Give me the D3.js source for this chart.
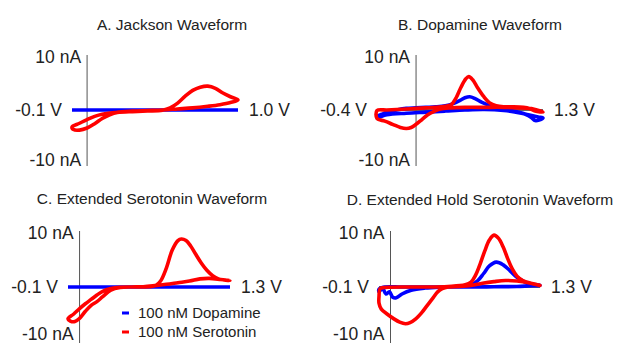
<!DOCTYPE html>
<html>
<head>
<meta charset="utf-8">
<script src="https://cdn.jsdelivr.net/npm/d3@7"></script>
<style>
  body { margin: 0; background: #fff; }
  svg text { font-family: "Liberation Sans", Arial, sans-serif; fill: #222; }
</style>
</head>
<body>
<svg id="chart" width="617" height="343"></svg>
<script>
// cyclic voltammograms, [potential V, current nA]
var jacksonDopamine = [[-0.1, 0], [1.0, 0]];
var jacksonSerotonin = [
  [-0.1, -3.2], [-0.05, -2.5], [0.0, -1.8], [0.05, -1.2], [0.1, -0.8], [0.2, -0.45], [0.3, -0.3],
  [0.4, -0.2], [0.5, -0.05], [0.55, 0.4], [0.6, 1.3], [0.65, 2.6], [0.7, 3.7], [0.75, 4.3],
  [0.8, 4.5], [0.85, 4.1], [0.9, 3.2], [0.95, 2.5], [1.0, 1.9],
  [0.95, 1.4], [0.88, 1.0], [0.8, 0.7], [0.7, 0.4], [0.6, 0.2], [0.5, 0.0], [0.4, -0.1],
  [0.3, -0.2], [0.2, -0.45], [0.15, -0.9], [0.1, -1.6], [0.05, -2.6], [0.0, -3.4],
  [-0.05, -3.8], [-0.09, -3.7]
];

var dopamineDopamine = [
  [-0.4, -1.2], [-0.35, -0.8], [-0.3, -0.4], [-0.2, 0.0], [-0.1, 0.3], [0.0, 0.4], [0.1, 0.5],
  [0.2, 0.6], [0.3, 0.8], [0.38, 1.2], [0.45, 1.8], [0.5, 2.3], [0.55, 2.5], [0.6, 2.2],
  [0.67, 1.5], [0.75, 0.9], [0.85, 0.4], [0.95, 0.0], [1.05, -0.4], [1.12, -0.8], [1.18, -1.4],
  [1.22, -2.0], [1.26, -1.9], [1.3, -1.5],
  [1.25, -1.3], [1.15, -0.9], [1.05, -0.5], [0.9, -0.1], [0.7, 0.1], [0.5, 0.0], [0.3, -0.2],
  [0.1, -0.4], [-0.1, -0.6], [-0.3, -0.9], [-0.4, -1.4]
];
var dopamineSerotonin = [
  [-0.4, -0.1], [-0.3, 0.0], [-0.2, 0.1], [-0.1, 0.2], [0.0, 0.3], [0.1, 0.4], [0.2, 0.5],
  [0.3, 0.7], [0.36, 1.0], [0.41, 2.3], [0.46, 4.3], [0.51, 5.9], [0.54, 6.3], [0.58, 5.7],
  [0.63, 4.2], [0.69, 2.6], [0.75, 1.4], [0.82, 0.8], [0.9, 0.6], [1.0, 0.6], [1.1, 0.5],
  [1.16, 0.3], [1.22, -0.2], [1.3, -0.4],
  [1.2, 0.2], [1.05, 0.4], [0.9, 0.5], [0.7, 0.5], [0.5, 0.5], [0.35, 0.4], [0.25, 0.2],
  [0.18, -0.3], [0.12, -0.9], [0.06, -1.8], [0.0, -2.7], [-0.05, -3.3], [-0.1, -3.5],
  [-0.16, -3.3], [-0.24, -2.7], [-0.32, -2.1], [-0.4, -1.6]
];

var extendedDopamine = [[-0.1, 0], [1.3, 0]];
var extendedSerotonin = [
  [-0.1, -5.9], [-0.05, -5.0], [0.0, -4.0], [0.05, -3.1], [0.1, -2.3], [0.15, -1.5], [0.2, -0.8],
  [0.27, -0.3], [0.35, -0.05], [0.45, 0.0], [0.6, 0.05], [0.66, 0.3], [0.7, 1.1], [0.75, 3.5],
  [0.8, 6.8], [0.85, 8.6], [0.88, 8.9], [0.92, 8.6], [0.96, 7.6], [1.0, 6.2], [1.05, 4.5],
  [1.1, 3.1], [1.15, 2.1], [1.2, 1.5], [1.25, 1.3], [1.3, 1.2],
  [1.22, 1.4], [1.12, 1.6], [1.04, 1.5], [0.95, 1.1], [0.85, 0.8], [0.75, 0.5], [0.65, 0.25],
  [0.55, 0.05], [0.45, 0.0], [0.35, -0.1], [0.27, -0.6], [0.2, -1.8], [0.15, -2.7],
  [0.1, -3.4], [0.05, -4.5], [0.0, -5.8], [-0.04, -6.4], [-0.08, -6.3]
];

var holdDopamine = [
  [-0.1, -0.9], [-0.07, -0.2], [-0.04, -1.3], [-0.01, -0.9], [0.02, -1.9], [0.05, -2.0],
  [0.1, -1.3], [0.18, -0.6], [0.3, -0.2], [0.45, 0.0], [0.6, 0.1], [0.7, 0.4], [0.76, 1.2],
  [0.81, 2.5], [0.86, 3.9], [0.92, 4.6], [0.98, 4.1], [1.04, 3.0], [1.1, 1.8], [1.17, 0.9],
  [1.24, 0.5], [1.3, 0.3],
  [1.2, 0.2], [1.1, 0.1], [0.9, 0.05], [0.7, 0.0], [0.4, 0.0], [0.1, 0.0], [-0.05, 0.0],
  [-0.1, -0.4]
];
var holdSerotonin = [
  [-0.09, -0.3], [-0.05, -0.1], [0.0, -0.05], [0.1, 0.0], [0.3, 0.0], [0.5, 0.1], [0.65, 0.4],
  [0.7, 0.9], [0.74, 2.2], [0.78, 4.3], [0.82, 6.7], [0.86, 8.7], [0.9, 9.6], [0.94, 9.0],
  [0.98, 7.4], [1.02, 5.2], [1.06, 3.3], [1.1, 2.0], [1.15, 1.2], [1.22, 0.7], [1.3, 0.3],
  [1.2, 0.8], [1.1, 1.1], [1.0, 1.2], [0.9, 1.0], [0.8, 0.7], [0.7, 0.3], [0.6, 0.1],
  [0.5, 0.0], [0.45, -0.3], [0.41, -0.9], [0.37, -2.0], [0.32, -3.4], [0.27, -4.8],
  [0.22, -5.9], [0.17, -6.6], [0.13, -6.8], [0.08, -6.5], [0.03, -5.9], [-0.03, -5.0],
  [-0.08, -4.1], [-0.1, -3.0], [-0.1, -1.8]
];

var titles = ['A. Jackson Waveform', 'B. Dopamine Waveform',
  'C. Extended Serotonin Waveform', 'D. Extended Hold Serotonin Waveform'];
var vLimits = [[-0.1, 1.0], [-0.4, 1.3], [-0.1, 1.3], [-0.1, 1.3]];
var vLabels = [['-0.1 V', '1.0 V'], ['-0.4 V', '1.3 V'], ['-0.1 V', '1.3 V'], ['-0.1 V', '1.3 V']];
var iLabels = ['10 nA', '-10 nA'];
var legendLabels = ['100 nM Dopamine', '100 nM Serotonin'];
var colors = ['#0000ff', '#ff0000'];

var svg = d3.select('#chart');

var panels = [
  { title: titles[0], v: vLimits[0], vl: vLabels[0], x: [72, 238], y: [163, 57], tx: 172, ty: 25,
    blue: jacksonDopamine, red: jacksonSerotonin, blueLoop: false, lowOff: 3 },
  { title: titles[1], v: vLimits[1], vl: vLabels[1], x: [377, 543], y: [163, 57], tx: 480, ty: 25,
    blue: dopamineDopamine, red: dopamineSerotonin, blueLoop: true, lowOff: 3 },
  { title: titles[2], v: vLimits[2], vl: vLabels[2], x: [68, 230], y: [341, 233], tx: 152, ty: 199,
    blue: extendedDopamine, red: extendedSerotonin, blueLoop: false, lowOff: 7 },
  { title: titles[3], v: vLimits[3], vl: vLabels[3], x: [379, 540], y: [341, 233], tx: 480, ty: 200,
    blue: holdDopamine, red: holdSerotonin, blueLoop: true, lowOff: 7 }
];

panels.forEach(drawPanel);

function drawPanel(p) {
  var x = d3.scaleLinear().domain(p.v).range(p.x);
  var y = d3.scaleLinear().domain([-10, 10]).range(p.y);
  var g = svg.append('g');

  g.append('text')
    .attr('x', p.tx).attr('y', p.ty).attr('dy', '0.35em')
    .attr('text-anchor', 'middle')
    .style('font-size', '15.5px')
    .text(p.title);

  // zero current line and the potential axis at 0 V
  g.append('line')
    .attr('x1', x(p.v[0])).attr('x2', x(p.v[1]))
    .attr('y1', y(0)).attr('y2', y(0))
    .attr('stroke', '#333').attr('stroke-width', 1.5);
  g.append('line')
    .attr('x1', x(0)).attr('x2', x(0))
    .attr('y1', y(10) - 2).attr('y2', y(-10) + 3)
    .attr('stroke', '#555').attr('stroke-width', 1);

  g.append('text')
    .attr('x', x(0) - 6).attr('y', y(10)).attr('dy', '0.35em')
    .attr('text-anchor', 'end').style('font-size', '17.5px')
    .text(iLabels[0]);
  g.append('text')
    .attr('x', x(0) - 6).attr('y', y(-10) - p.lowOff).attr('dy', '0.35em')
    .attr('text-anchor', 'end').style('font-size', '17.5px')
    .text(iLabels[1]);
  g.append('text')
    .attr('x', x(p.v[0]) - 10).attr('y', y(0)).attr('dy', '0.35em')
    .attr('text-anchor', 'end').style('font-size', '17.5px')
    .text(p.vl[0]);
  g.append('text')
    .attr('x', x(p.v[1]) + 11).attr('y', y(0)).attr('dy', '0.35em')
    .attr('text-anchor', 'start').style('font-size', '17.5px')
    .text(p.vl[1]);

  var open = d3.line().x(function(d) { return x(d[0]); }).y(function(d) { return y(d[1]); });
  var loop = d3.line().x(function(d) { return x(d[0]); }).y(function(d) { return y(d[1]); })
    .curve(d3.curveCatmullRomClosed.alpha(0.5));

  g.append('path')
    .attr('d', p.blueLoop ? loop(p.blue) : open(p.blue))
    .attr('fill', 'none').attr('stroke', colors[0])
    .attr('stroke-width', 3.6).attr('stroke-linejoin', 'round');
  g.append('path')
    .attr('d', loop(p.red))
    .attr('fill', 'none').attr('stroke', colors[1])
    .attr('stroke-width', 3.6).attr('stroke-linejoin', 'round');
}

// legend
var legend = svg.append('g').attr('transform', 'translate(122,313)');
legendLabels.forEach(function(label, i) {
  legend.append('line')
    .attr('x1', 0).attr('x2', 7).attr('y1', i * 19).attr('y2', i * 19)
    .attr('stroke', colors[i]).attr('stroke-width', 3);
  legend.append('text')
    .attr('x', 16).attr('y', i * 19).attr('dy', '0.35em')
    .style('font-size', '15px')
    .text(label);
});
</script>
</body>
</html>
